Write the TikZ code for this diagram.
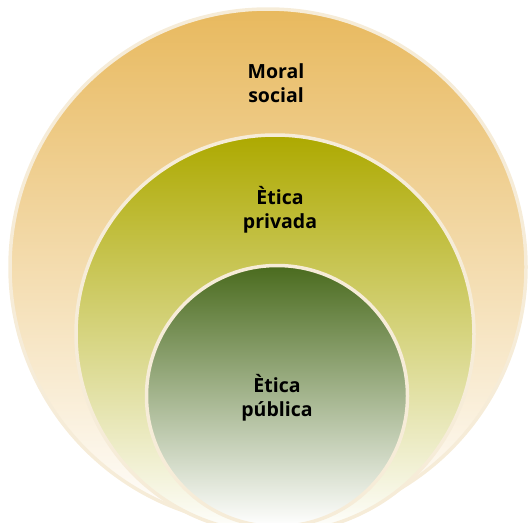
\documentclass[tikz,border=0pt]{standalone}
\usepackage{fontspec}
\setmainfont{Open Sans}
\definecolor{rim}{RGB}{246,236,216}
\definecolor{moraltop}{RGB}{232,185,94}
\definecolor{moralmid}{RGB}{242,214,160}
\definecolor{privtop}{RGB}{173,169,0}
\definecolor{privmid}{RGB}{202,194,72}
\definecolor{pubtop}{RGB}{74,107,30}
\definecolor{pubmid}{RGB}{130,146,64}
\tikzset{
	ring/.style={circle, draw=rim, line width=3.5pt, inner sep=0pt},
	ringtext/.style={font=\bfseries\fontsize{19.5}{24.5}\selectfont, align=center, text=black}
}
\begin{document}
\begin{tikzpicture}[x=1pt, y=-1pt]
		\useasboundingbox (0,0) rectangle (529,522);
		\clip (0,0) rectangle (529,522);

		\node[ring, minimum size=516pt, top color=moraltop, middle color=moralmid, bottom color=white] (moral) at (268,267) {};
		\node[ring, minimum size=398pt, top color=privtop, middle color=privmid, bottom color=white] (privada) at (275,334) {};
		\node[ring, minimum size=261pt, top color=pubtop, middle color=pubmid, bottom color=white] (publica) at (277,396) {};

		\node[ringtext] (moraltxt) at (276,83) {Moral\\social};
		\node[ringtext] (privtxt) at (280,210) {Ètica\\privada};
		\node[ringtext] (pubtxt) at (277,398) {Ètica\\pública};
	\end{tikzpicture}
\end{document}
